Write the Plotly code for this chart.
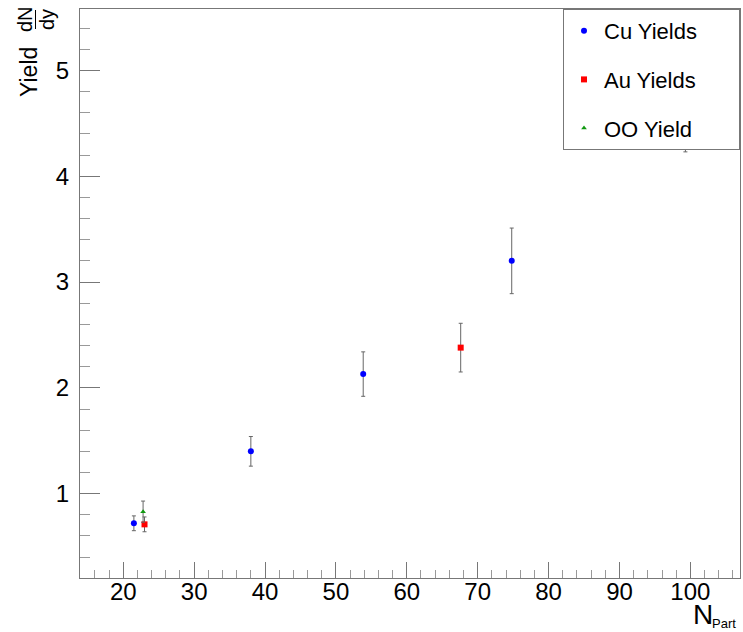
import plotly.graph_objects as go

# ---- data ----
cu_npart = [21.5, 38.0, 53.85, 74.8, 99.3]
cu_yield = [0.72, 1.40, 2.13, 3.20, 4.65]
cu_err = [0.07, 0.14, 0.21, 0.31, 0.42]

au_npart = [23.0, 67.6]
au_yield = [0.71, 2.38]
au_err = [0.07, 0.23]

oo_npart = [22.8]
oo_yield = [0.83]
oo_err = [0.10]

x_ticks = [20, 30, 40, 50, 60, 70, 80, 90, 100]
y_ticks = [1, 2, 3, 4, 5]

FONT = "Liberation Sans, Arial, Helvetica, sans-serif"
W, H = 743, 632
ML, MR, MT, MB = 80, 3, 9, 54
PAD = "\u00a0" * 6

fig = go.Figure()

def add(name, xs, ys, es, color, symbol, size, group):
    fig.add_trace(go.Scatter(
        x=xs, y=ys, mode="markers", name=name + PAD, legendgroup=group,
        marker=dict(color=color, symbol=symbol, size=size, line=dict(width=0)),
        error_y=dict(type="data", array=es, visible=True, color="#666666",
                     thickness=1, width=2),
    ))

add("Cu Yields", cu_npart, cu_yield, cu_err, "#0000ff", "circle", 6, "g1")
add("Au Yields", au_npart, au_yield, au_err, "#ff0000", "square", 6, "g2")
add("OO Yield", oo_npart, oo_yield, oo_err, "#119911", "triangle-up", 5, "g3")

pw = W - ML - MR
ph = H - MT - MB

def px_x(p):
    return (p - ML) / pw

def px_y(p):
    return 1 - (p - MT) / ph

annotations = [
    dict(text="Yield", textangle=-90, x=px_x(29), y=px_y(72), xref="paper", yref="paper",
         showarrow=False, font=dict(family=FONT, size=23, color="black"),
         xanchor="center", yanchor="middle"),
    dict(text="dN", textangle=-90, x=px_x(25), y=px_y(19), xref="paper", yref="paper",
         showarrow=False, font=dict(family=FONT, size=20, color="black"),
         xanchor="center", yanchor="middle"),
    dict(text="dy", textangle=-90, x=px_x(47), y=px_y(20), xref="paper", yref="paper",
         showarrow=False, font=dict(family=FONT, size=20, color="black"),
         xanchor="center", yanchor="middle"),
    dict(text="N", x=px_x(715), y=px_y(632), xref="paper", yref="paper",
         showarrow=False, font=dict(family=FONT, size=28, color="black"),
         xanchor="right", yanchor="bottom"),
    dict(text="Part", x=px_x(738), y=px_y(623), xref="paper", yref="paper",
         showarrow=False, font=dict(family=FONT, size=13, color="black"),
         xanchor="right", yanchor="middle"),
]

shapes = [
    dict(type="line", xref="paper", yref="paper", x0=px_x(35.5), x1=px_x(35.5),
         y0=px_y(10), y1=px_y(29), line=dict(color="black", width=1)),
]

fig.update_layout(
    width=W, height=H,
    margin=dict(l=ML, r=MR, t=MT, b=MB, pad=0),
    paper_bgcolor="white", plot_bgcolor="white",
    font=dict(family=FONT, size=20, color="black"),
    showlegend=True,
    legend=dict(x=1, y=1, xanchor="right", yanchor="top",
                bgcolor="white", bordercolor="#777777", borderwidth=1,
                font=dict(family=FONT, size=22, color="black"),
                tracegroupgap=17, itemsizing="trace"),
    annotations=annotations,
    shapes=shapes,
)

fig.update_xaxes(
    range=[13.9, 107.0], tickmode="array", tickvals=x_ticks,
    ticks="inside", ticklen=16, tickcolor="#777777", tickwidth=1,
    showline=True, linecolor="#777777", linewidth=1, mirror=True,
    showgrid=False, zeroline=False,
    tickfont=dict(family=FONT, size=24, color="black"),
    ticklabelstandoff=-8,
    minor=dict(dtick=2, tick0=0, ticks="inside", ticklen=8, tickcolor="#999999", showgrid=False),
)
fig.update_yaxes(
    range=[0.203, 5.58], tickmode="array", tickvals=y_ticks,
    ticks="inside", ticklen=20, tickcolor="#777777", tickwidth=1,
    showline=True, linecolor="#777777", linewidth=1, mirror=True,
    showgrid=False, zeroline=False,
    tickfont=dict(family=FONT, size=24, color="black"),
    ticklabelstandoff=5,
    minor=dict(dtick=0.2, tick0=0, ticks="inside", ticklen=10, tickcolor="#999999", showgrid=False),
)

fig.write_html("out.html", config={"displayModeBar": False},
               post_script="document.body.style.margin='0';document.body.style.overflow='hidden';")
